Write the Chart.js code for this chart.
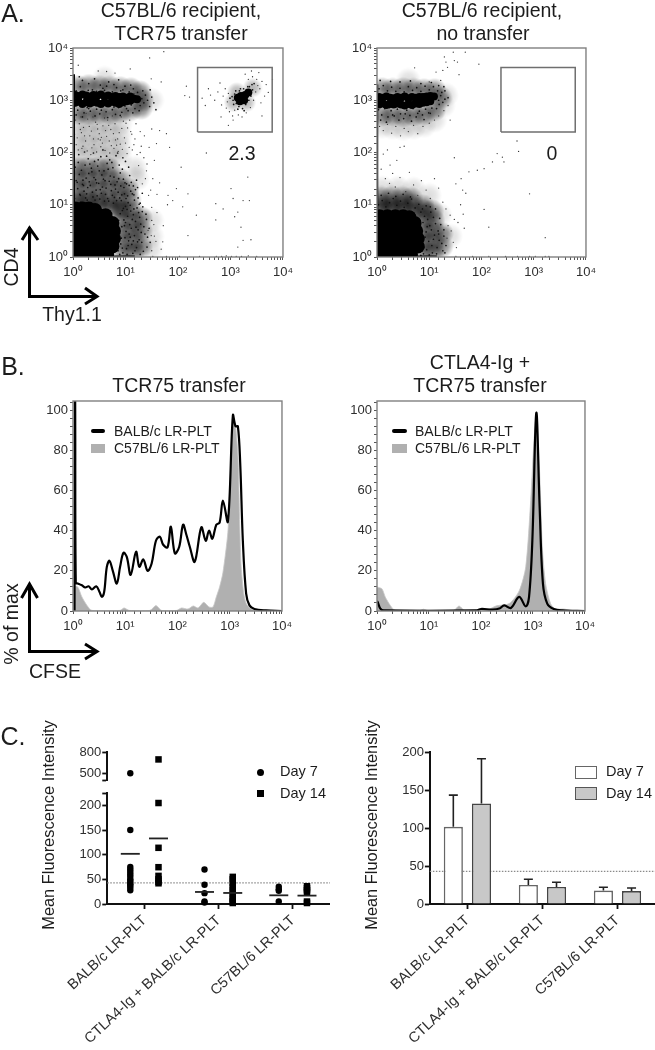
<!DOCTYPE html>
<html>
<head>
<meta charset="utf-8">
<title>TCR75 transfer</title>
<script src="https://cdn.jsdelivr.net/npm/chart.js@4"></script>
<style>
  html, body { margin: 0; padding: 0; background: #fff; }
  #page { position: relative; width: 655px; height: 1050px; overflow: hidden; font-family: "Liberation Sans", Arial, sans-serif; color: #1c1c1c; filter: blur(0.35px); }
  canvas { position: absolute; }
  svg { position: absolute; left: 0; top: 0; }
  .t { position: absolute; white-space: nowrap; transform: translate(-50%, -50%); font-size: 19.5px; }
  .v { transform: translate(-50%, -50%) rotate(-90deg); }
  .letter { font-size: 25px; }
  .key { font-size: 14px; transform: translate(0, -50%); }
  .day { font-size: 14.5px; transform: translate(0, -50%); }
  .mfi { font-size: 16.4px; }
  .swatch { position: absolute; }
</style>
</head>
<body>
<div id="page">
  <div class="t letter" style="left:13px;top:13px">A.</div>
  <div class="t letter" style="left:13px;top:366px">B.</div>
  <div class="t letter" style="left:13px;top:736px">C.</div>

  <div class="t" style="left:181px;top:10px">C57BL/6 recipient,</div>
  <div class="t" style="left:181px;top:33px">TCR75 transfer</div>
  <div class="t" style="left:482px;top:10px">C57BL/6 recipient,</div>
  <div class="t" style="left:483px;top:33px">no transfer</div>
  <div class="t" style="left:179px;top:385px">TCR75 transfer</div>
  <div class="t" style="left:480px;top:362px">CTLA4-Ig +</div>
  <div class="t" style="left:480px;top:385px">TCR75 transfer</div>

  <div class="t" style="left:242px;top:153px">2.3</div>
  <div class="t" style="left:552px;top:153px">0</div>

  <div class="t v" style="left:11px;top:267px">CD4</div>
  <div class="t" style="left:72px;top:314px">Thy1.1</div>
  <div class="t v" style="left:11px;top:624px">% of max</div>
  <div class="t" style="left:55px;top:671px">CFSE</div>
  <div class="t v mfi" style="left:48px;top:825px">Mean Fluorescence Intensity</div>
  <div class="t v mfi" style="left:371px;top:825px">Mean Fluorescence Intensity</div>

  <svg width="655" height="1050" fill="none" stroke="#000" stroke-width="3">
    <path d="M29.5 241 L30 228 M22 240 L29.5 228 L38 240 M29.5 227 V296.5 H97 M85 288 L97 296.5 L85 304"/>
    <path d="M29.5 598 V584 M21.5 598 L29.5 584 L37.5 598 M29.5 584 V651.5 H97 M85 644 L97 651.5 L85 659"/>
  </svg>

  <div class="swatch" style="left:91px;top:429px;width:14px;height:3.5px;background:#000;border-radius:2px"></div>
  <div class="swatch" style="left:91px;top:444px;width:14px;height:9px;background:#b0b0b0"></div>
  <div class="t key" style="left:114px;top:431px">BALB/c LR-PLT</div>
  <div class="t key" style="left:114px;top:448px">C57BL/6 LR-PLT</div>
  <div class="swatch" style="left:392px;top:429px;width:15px;height:3.5px;background:#000;border-radius:2px"></div>
  <div class="swatch" style="left:392px;top:444px;width:15px;height:9px;background:#b0b0b0"></div>
  <div class="t key" style="left:415px;top:431px">BALB/c LR-PLT</div>
  <div class="t key" style="left:415px;top:448px">C57BL/6 LR-PLT</div>

  <div class="swatch" style="left:257px;top:769px;width:7px;height:7px;border-radius:50%;background:#000"></div>
  <div class="swatch" style="left:257px;top:790px;width:7px;height:7px;background:#000"></div>
  <div class="t day" style="left:280px;top:771px">Day 7</div>
  <div class="t day" style="left:280px;top:793px">Day 14</div>
  <div class="swatch" style="left:575px;top:766px;width:20px;height:11px;background:#fff;border:1.5px solid #666"></div>
  <div class="swatch" style="left:575px;top:787px;width:20px;height:11px;background:#c8c8c8;border:1.5px solid #555"></div>
  <div class="t day" style="left:606px;top:771px">Day 7</div>
  <div class="t day" style="left:606px;top:793px">Day 14</div>

  <canvas id="flowLeft"></canvas>
  <canvas id="flowRight"></canvas>
  <canvas id="histLeft"></canvas>
  <canvas id="histRight"></canvas>
  <canvas id="dotsMfi"></canvas>
  <canvas id="barsMfi"></canvas>
</div>

<script>
const FONT = "'Liberation Sans', Arial, sans-serif";
const INK = "#2e2e2e";

const decadeLabels = ["10⁰", "10¹", "10²", "10³", "10⁴"];
const percentLabels = [0, 20, 40, 60, 80, 100];
const mfiLabels = [0, 50, 100, 150, 200, 500, 800];
const groupLabels = ["BALB/c LR-PLT", "CTLA4-Ig + BALB/c LR-PLT", "C57BL/6 LR-PLT"];
const cutoff = 43;

// Gate corners, in fluorescence units.
const gateX = [236, 6230, 6230, 236, 236];
const gateY = [247, 247, 4217, 4217, 247];

// Flow plots: flat lists of log10(x)*100, log10(y)*100 pairs.
// Solid populations are kept as blobs, grey ones as shade, the rest as single events.
const leftCore = [5,5, 20,5, 35,5, 50,5, 65,5, 5,20, 20,20, 35,20, 50,20, 65,20, 75,20, 5,35, 20,35, 35,35, 50,35, 65,35, 78,35,
  5,50, 20,50, 35,50, 50,50, 65,50, 78,50, 5,65, 20,65, 35,65, 50,65, 65,65, 75,65, 5,80, 20,80, 35,80, 50,80, 62,80, 5,93, 18,93, 30,93, 42,90];
const leftBand = [4,295, 11,297, 18,293, 25,296, 32,294, 39,297, 46,295, 53,293, 60,296, 67,294, 74,297, 81,295, 88,293, 95,296, 102,298, 109,299,
  4,310, 11,308, 18,311, 25,309, 32,307, 39,310, 46,308, 53,311, 60,307, 67,309, 74,306, 81,308, 88,306, 95,307, 102,305, 109,307, 116,303, 122,302];
const leftShade = [8,100, 30,102, 52,100, 72,96, 88,92, 8,110, 28,110, 48,110, 68,110, 88,110, 108,110, 8,130, 28,130, 48,130, 68,130, 88,130, 105,130, 8,150, 28,150, 48,150, 68,150, 88,150, 8,170, 28,170, 48,170, 68,170,
  95,10, 115,10, 95,30, 115,30, 95,50, 115,50, 95,70, 115,70, 95,90, 112,90, 130,20, 130,50, 130,75,
  10,326, 30,328, 50,326, 70,325, 90,324, 110,322, 10,275, 30,274, 50,276, 70,275, 90,278, 110,282, 132,300, 130,285, 128,316];
const leftHaze = [10,195, 30,195, 50,195, 70,192, 90,190, 10,215, 30,215, 50,215, 70,212, 90,210, 10,235, 30,235, 50,235, 70,235, 90,232, 10,255, 30,255, 50,255, 70,255, 90,255, 118,170, 122,150, 150,70, 150,40, 148,15, 150,300, 60,342];
const leftDense = [3,112, 9,131, 14,118, 21,126, 27,109, 33,137, 38,115, 44,128, 51,111, 56,134, 62,120, 68,107, 73,127, 79,114, 86,124, 92,108, 97,133, 104,117, 110,126, 117,109,
  6,146, 12,158, 18,139, 25,151, 31,144, 36,163, 43,148, 49,141, 55,157, 61,146, 67,168, 72,139, 78,153, 84,144, 90,161, 96,149, 102,140, 108,156, 115,136, 121,147,
  4,172, 10,181, 16,166, 23,176, 29,188, 35,170, 41,183, 47,174, 53,192, 59,165, 65,179, 70,186, 76,171, 82,194, 88,176, 94,168, 100,183, 106,172,
  2,125, 8,143, 15,105, 20,137, 26,121, 30,160, 34,104, 40,152, 46,117, 50,165, 54,122, 58,149, 63,132, 66,112, 71,155, 75,118, 80,138, 83,108, 87,150, 93,119, 99,142, 101,112, 107,137, 113,121, 119,129, 124,113, 128,103, 132,122,
  11,196, 22,201, 32,178, 39,199, 48,186, 57,205, 64,193, 74,181, 85,199, 95,190,
  13,120, 19,147, 24,113, 28,133, 37,124, 42,109, 45,142, 52,129, 60,107, 69,145, 77,103, 81,130, 89,113, 91,136, 98,121, 105,104, 111,143, 116,119, 123,133,
  86,12, 91,25, 95,8, 99,37, 88,46, 93,58, 97,71, 90,83, 96,93, 102,16, 106,31, 101,49, 108,62, 104,78, 110,88, 114,7, 112,24, 117,41, 111,55, 119,68, 115,81, 122,94, 121,18, 126,33, 124,52, 129,63, 127,76, 132,87, 134,11, 131,28, 137,44, 135,58, 140,72, 128,5, 87,70, 92,36, 98,60, 103,5, 107,44, 113,72, 118,12, 123,29, 130,47, 116,92, 100,97, 109,99, 126,101, 133,96, 139,82, 142,38, 145,55, 141,19, 147,28, 89,5, 94,17, 105,22, 100,66, 109,38, 115,31, 120,57, 125,85, 94,89, 103,91,
  6,318, 14,326, 22,315, 30,332, 37,320, 45,317, 52,329, 60,319, 68,335, 75,316, 83,324, 91,318, 99,327, 107,316, 115,322, 123,315, 18,338, 41,341, 64,327, 87,339, 12,345, 29,319, 57,323, 78,330, 95,320, 110,329,
  116,312, 120,297, 124,306, 128,290, 131,303, 135,295, 138,310, 126,280, 142,300, 146,288, 118,284, 133,318, 150,306, 154,295, 147,320, 158,282,
  3,289, 9,281, 15,292, 21,276, 27,286, 33,279, 39,290, 45,283, 51,274, 57,288, 63,278, 69,291, 75,282, 81,273, 87,286, 93,277, 99,289, 105,280, 111,291, 6,272, 18,268, 30,284, 42,270, 54,281, 66,267, 78,287, 90,271, 102,284, 114,276];
const leftSparse = [5,262, 12,255, 20,248, 28,264, 35,241, 43,258, 50,236, 57,251, 66,262, 72,244, 80,255, 88,238, 96,260, 104,247, 112,235, 8,228, 16,238, 24,222, 32,232, 40,215, 48,226, 56,218, 64,231, 73,213, 81,224, 90,216, 98,228, 107,210, 118,226, 10,205, 19,212, 27,203, 36,209, 45,201, 53,211, 61,204, 70,199, 78,208, 86,202, 94,206, 103,198, 113,205, 122,196, 130,212, 135,190, 125,175, 140,165, 145,210, 128,240, 136,232, 150,245, 141,178, 152,150, 148,128, 155,185, 160,120, 165,142, 3,235, 6,215, 2,270, 15,268, 25,275, 38,268, 47,245, 60,266, 75,270, 92,268, 108,262, 120,255,
  14,244, 22,232, 31,250, 39,226, 46,254, 54,229, 62,242, 69,222, 77,236, 85,226, 93,246, 100,218, 110,240, 17,208, 34,196, 52,224, 68,252, 83,214, 101,256, 116,215, 128,200, 138,150, 132,140, 144,118, 150,95, 154,62, 158,30, 150,12,
  146,381, 173,393, 10,367, 48,356, 64,355, 80,352, 109,360, 149,341, 168,335, 216,327, 213,309, 222,306, 165,242, 178,236, 184,210, 159,217, 206,172, 197,131, 181,118, 190,108, 219,121, 235,80, 254,199, 209,96, 272,102, 286,92, 301,131, 305,112, 333,153, 324,108, 336,108, 314,86, 308,77, 272,71, 320,57, 339,33, 324,32, 314,19, 219,41, 171,29, 149,41, 143,51,
  273,1, 283,1, 292,2, 302,1, 311,1, 321,1, 334,2, 350,1, 152,1, 178,1, 203,1, 241,1, 150,70, 155,40, 160,85, 168,15, 172,60, 180,100];
const gateBlob = [318,298, 326,300, 320,308, 328,310, 334,315, 314,305];
const gateShade = [306,296, 330,296, 312,316, 342,324];
const gateDense = [305,300, 308,312, 311,294, 313,306, 316,288, 317,318, 320,298, 321,310, 323,284, 325,322, 327,304, 329,292, 331,314, 333,326, 335,300, 337,318, 339,308, 341,330, 303,307, 306,292, 310,318, 314,283, 319,322, 326,280, 336,326, 342,320, 345,332, 299,304, 315,298, 318,305, 322,295, 324,302, 326,312];
const gateSparse = [262,310, 270,300, 276,316, 283,291, 286,308, 290,322, 294,297, 280,333, 292,285, 296,313, 298,278, 304,270, 308,281, 315,272, 322,268, 330,276, 338,286, 344,300, 348,316, 352,328, 350,340, 356,322, 342,345, 334,340, 328,350, 360,336, 365,308, 358,295, 246,304, 252,290, 258,322, 372,315, 305,262, 296,252, 282,268, 360,270, 368,330, 340,356, 354,353, 380,340];

const rightCore = [5,5, 20,5, 35,5, 50,5, 65,5, 5,20, 20,20, 35,20, 50,20, 65,20, 78,20, 5,35, 20,35, 35,35, 50,35, 65,35, 78,35,
  5,50, 20,50, 35,50, 50,50, 65,50, 75,50, 5,65, 20,65, 35,65, 50,65, 65,65, 72,65, 5,78, 20,78, 35,78, 50,78, 62,76];
const rightBand = [4,292, 11,294, 18,291, 25,293, 32,292, 39,294, 46,292, 53,290, 60,293, 67,291, 74,294, 81,293, 88,295, 95,296, 102,298,
  4,306, 11,305, 18,307, 25,305, 32,304, 39,306, 46,305, 53,307, 60,304, 67,306, 74,305, 81,306, 88,306, 95,307, 102,308, 109,307];
const rightShade = [8,92, 30,92, 52,90, 72,84, 8,100, 28,100, 48,100, 68,100, 88,98, 8,114, 28,114, 48,114, 66,112, 90,10, 108,10, 90,30, 108,30, 90,50, 108,50, 90,70, 108,70, 90,88, 106,88, 124,20, 124,45,
  10,322, 30,321, 50,322, 70,321, 90,320, 110,320, 10,272, 30,272, 50,270, 70,272, 90,274, 110,282, 122,305];
const rightHaze = [10,250, 30,248, 50,246, 70,248, 90,252, 110,262, 126,290, 132,310, 140,40, 10,132, 40,132, 70,130, 100,118, 120,80, 60,338];
const rightDense = [3,100, 10,108, 17,96, 24,104, 31,112, 38,99, 45,107, 52,95, 59,103, 66,111, 73,94, 80,101, 87,92, 94,98, 8,118, 22,122, 36,116, 50,120, 64,115,
  82,10, 86,24, 89,6, 92,38, 85,52, 88,66, 91,78, 84,86, 95,14, 99,30, 94,48, 101,60, 97,72, 103,86, 106,8, 105,22, 110,42, 104,52, 112,64, 108,76, 115,18, 119,32, 117,50, 122,62, 120,74, 126,12, 124,26, 128,40, 112,92, 128,52, 84,3, 90,18, 96,58, 100,4, 108,34, 114,6, 118,44, 102,96, 132,22, 130,8,
  4,322, 12,328, 20,318, 28,325, 36,317, 44,323, 52,316, 60,326, 68,319, 76,324, 84,317, 92,327, 100,320, 108,326, 116,318, 124,315, 112,308, 118,300, 122,309, 126,296, 119,292, 114,284,
  3,282, 9,272, 15,284, 21,268, 27,280, 33,270, 39,283, 45,274, 51,265, 57,281, 63,271, 69,284, 75,268, 81,279, 87,272, 93,283, 99,276, 105,285, 7,262, 18,258, 30,272, 42,262, 54,274, 66,260, 78,275, 90,263, 102,275, 24,286, 48,287, 72,288,
  6,338, 26,336, 44,335, 64,337, 84,332, 104,334, 118,328, 130,318, 128,326, 136,305, 130,302];
const rightSparse = [5,250, 12,242, 20,254, 28,237, 36,250, 45,232, 52,246, 60,240, 70,252, 78,236, 88,250, 100,256, 110,262, 118,270, 128,280, 136,290, 140,262,
  12,197, 25,176, 38,185, 44,210, 52,212, 20,205, 30,160, 8,168, 16,150, 24,141, 35,134, 44,152, 55,125, 62,162, 70,138, 78,118, 85,146, 94,128, 102,112, 110,150, 118,132, 126,105, 132,92, 140,80, 136,60, 142,50, 148,72, 155,66, 134,36, 146,28, 152,18, 160,100, 165,82,
  146,392, 169,392, 195,369, 129,383, 132,373, 148,376, 154,373, 135,363, 126,357, 157,349, 72,362, 113,354, 100,335, 122,338, 148,190, 151,140, 161,150, 176,163, 192,166, 205,169, 221,182, 230,198, 240,191, 243,182, 268,222, 271,202, 164,128, 170,122, 205,91, 214,57, 167,55, 292,121, 322,37,
  303,1, 322,1, 329,1, 183,1, 214,1, 246,1, 269,1, 292,1, 151,1];

// Histogram traces: CFSE value and % of max at each turning point.
const histLeftLineX = [1.07, 1.085, 1.1, 1.13, 1.23, 1.48, 1.72, 1.99, 2.3, 2.78, 3.22, 3.57, 3.95, 4.44, 4.99, 5.78, 6.89, 7.97, 9.23, 10.7, 12.7, 16.1, 18.6, 22.2, 26.8, 32, 38.7, 46, 53.3, 64.5, 74.6, 89, 108, 128, 148, 172, 214, 286, 347, 401, 464, 553, 640, 741, 923, 1149, 1292, 1432, 1585, 1782, 2061, 2388, 2972, 4955, 10000];
const histLeftLineY = [0, 105, 105, 14, 13.7, 12.8, 11.7, 12.3, 10.7, 12.3, 9.5, 7, 9.5, 22, 25, 20, 13.7, 22, 29, 27, 18, 29.5, 22, 25.7, 20, 23.7, 35, 37, 33, 31.7, 42, 28.7, 32, 43, 38, 32, 24.5, 41.7, 35, 40, 36, 43, 44, 55, 44.5, 97.5, 92, 92, 74, 35, 8.7, 2.8, 1, 0.3, 0];
const histLeftFillX = [1.0, 1.23, 1.48, 1.85, 2.3, 7.97, 9.5, 12, 29.7, 38.7, 49.5, 96, 119, 159, 200, 248, 317, 401, 478, 553, 640, 740, 920, 1000, 1070, 1150, 1292, 1452, 1556, 1656, 1850, 2050, 2400, 3000, 3980, 5500, 10000];
const histLeftFillY = [12.8, 12, 7, 2.8, 0.3, 0.3, 1.5, 0.3, 0.3, 2.7, 0.3, 0.3, 1.5, 1, 2.5, 1.5, 4.3, 2, 2, 7, 12, 19, 39, 60, 80, 95, 92, 75, 42, 22, 9, 4, 1.5, 0.5, 0.8, 0.2, 0];
const histRightLineX = [1.0, 1.03, 1.16, 1.34, 80.8, 100, 168, 225, 280, 376, 542, 726, 840, 972, 1159, 1342, 1553, 1880, 2519, 3631, 10000];
const histRightLineY = [5, 4.5, 1.2, 0.3, 0.3, 1, 0.7, 1.2, 2.8, 1.5, 7, 2.3, 7, 35, 98.7, 52, 13.7, 3.7, 1, 0.3, 0];
const histRightFillX = [1.0, 1.25, 1.44, 1.8, 2.24, 6.7, 7.76, 9.67, 29.9, 37.8, 48.4, 125, 194, 349, 542, 726, 904, 1047, 1159, 1342, 1510, 1746, 2176, 2712, 3908, 5630, 10000];
const histRightFillY = [12, 11, 7, 2.8, 0.3, 0.3, 0.9, 0.3, 0.3, 2.5, 0.3, 0.3, 2.5, 3.7, 10, 22, 55, 85, 97, 69, 32, 13.7, 3.7, 1, 1, 0.2, 0];

// Panel C values.
const day7Points = [[75, 70, 65, 60, 55, 50, 47, 43, 40, 37, 33, 28, 150], [70, 39, 22, 5, 3], [35, 30, 27, 5]];
const day14Points = [[204.7, 113.9, 74.6, 57, 50, 45, 42], [55, 50, 42, 35, 28, 22, 15, 10, 5, 2], [36, 32, 28, 24, 5, 2]];
const day7Broken = [500];
const day14Broken = [695];
const day7Means = [101.7, 24.4, 17.6];
const day14Means = [132.9, 22.4, 17];
const day7Bars = [101.5, 25, 17.6];
const day14Bars = [132.3, 22.4, 17];
const day7ErrorTops = [143.3, 32.5, 22];
const day14ErrorTops = [191.2, 28.6, 21];

const GROUP_SHIFT = 0.19;

// Turn a flat list of log10*100 pairs into chart points.
const logPairs = (flat) => {
  const points = [];
  for (let i = 0; i < flat.length; i += 2) {
    points.push({ x: 10 ** (flat[i] / 100), y: 10 ** (flat[i + 1] / 100) });
  }
  return points;
};

const zip = (xs, ys) => xs.map((x, i) => ({ x, y: ys[i] }));

// Size a canvas and put it on the page.
const place = (id, left, top, width, height) => {
  const canvas = document.getElementById(id);
  canvas.width = width;
  canvas.height = height;
  canvas.style.left = `${left}px`;
  canvas.style.top = `${top}px`;
  canvas.style.width = `${width}px`;
  canvas.style.height = `${height}px`;
  return canvas;
};

// Soft round point style for the grey, unresolved parts of the clouds.
const softPoint = (radius, alpha) => {
  const sprite = document.createElement("canvas");
  sprite.width = sprite.height = radius * 2;
  const ctx = sprite.getContext("2d");
  const shade = ctx.createRadialGradient(radius, radius, 0, radius, radius, radius);
  shade.addColorStop(0, `rgba(0,0,0,${alpha})`);
  shade.addColorStop(0.5, `rgba(0,0,0,${alpha * 0.7})`);
  shade.addColorStop(1, "rgba(0,0,0,0)");
  ctx.fillStyle = shade;
  ctx.fillRect(0, 0, radius * 2, radius * 2);
  return sprite;
};

// Grey frame round the plot area of panels A and B.
const framePlugin = {
  id: "frame",
  afterDatasetsDraw(chart) {
    const { ctx, chartArea: a } = chart;
    ctx.save();
    ctx.strokeStyle = "#808080";
    ctx.lineWidth = 1.4;
    ctx.strokeRect(a.left, a.top, a.right - a.left, a.bottom - a.top);
    ctx.restore();
  },
};

// Dotted cut-off across the bar panel, behind the bars.
const cutoffPlugin = {
  id: "cutoff",
  beforeDatasetsDraw(chart) {
    const { ctx, chartArea: a, scales } = chart;
    const y = scales.y.getPixelForValue(cutoff);
    ctx.save();
    ctx.strokeStyle = "#8a8a8a";
    ctx.lineWidth = 1.2;
    ctx.setLineDash([1.5, 1.5]);
    ctx.beginPath();
    ctx.moveTo(a.left, y);
    ctx.lineTo(a.right, y);
    ctx.stroke();
    ctx.restore();
  },
};

// Error bars on the bars of panel C, from the chart's own y scale.
const errorBarPlugin = {
  id: "errorBars",
  afterDatasetsDraw(chart) {
    const { ctx, scales } = chart;
    [day7ErrorTops, day14ErrorTops].forEach((tops, datasetIndex) => {
      const meta = chart.getDatasetMeta(datasetIndex);
      tops.forEach((top, i) => {
        const bar = meta.data[i];
        const y = scales.y.getPixelForValue(top);
        ctx.save();
        ctx.strokeStyle = "#222";
        ctx.lineWidth = 1.6;
        ctx.beginPath();
        ctx.moveTo(bar.x, bar.y);
        ctx.lineTo(bar.x, y);
        ctx.moveTo(bar.x - 4.5, y);
        ctx.lineTo(bar.x + 4.5, y);
        ctx.stroke();
        ctx.restore();
      });
    });
  },
};

const baseOptions = (top, right) => ({
  responsive: false,
  animation: false,
  devicePixelRatio: 1,
  events: [],
  layout: { autoPadding: false, padding: { top, right, left: 0, bottom: 0 } },
  plugins: { legend: { display: false }, tooltip: { enabled: false } },
});

const tickFont = { family: FONT, size: 13 };

const logAxis = (axis, size) => ({
  type: "logarithmic",
  min: 1,
  max: 10000,
  border: { display: false },
  grid: { drawOnChartArea: false, tickLength: 3, tickColor: "#555", tickWidth: 1 },
  ticks: {
    autoSkip: false,
    maxRotation: 0,
    padding: axis === "x" ? 5 : 2,
    color: INK,
    font: tickFont,
    callback: (value) => {
      const power = Math.log10(value);
      return Number.isInteger(Math.round(power * 1000) / 1000) ? decadeLabels[Math.round(power)] : "";
    },
  },
  afterFit: (scale) => {
    if (axis === "x") scale.height = size;
    else scale.width = size;
  },
});

const dotLayer = (data, radius, color) => ({
  data,
  pointRadius: radius,
  pointBorderWidth: 0,
  pointBackgroundColor: color,
  clip: 0,
});

const softLayer = (data, sprite) => ({
  data,
  pointStyle: sprite,
  pointRadius: sprite.width / 2,
  clip: 0,
});

const lineLayer = (data, width, color) => ({
  data,
  showLine: true,
  tension: 0,
  pointRadius: 0,
  borderWidth: width,
  borderColor: color,
  clip: 0,
});

// Panel A dot plot.
const drawFlow = (id, left, width, layers) => {
  const canvas = place(id, left - 40, 36, width + 40 + 14, 209 + 12 + 24);
  return new Chart(canvas, {
    type: "scatter",
    data: {
      datasets: [lineLayer(zip(gateX, gateY), 1.5, "#6f6f6f"), ...layers],
    },
    options: {
      ...baseOptions(12, 14),
      scales: { x: logAxis("x", 24), y: logAxis("y", 40) },
    },
    plugins: [framePlugin],
  });
};

const SHADE = softPoint(12, 0.5);
const HAZE = softPoint(13, 0.14);
const GATE_SHADE = softPoint(10, 0.3);

drawFlow("flowLeft", 73, 211, [
  dotLayer(logPairs(gateBlob), 4, "#000"),
  dotLayer(logPairs(gateDense), 0.85, "#111"),
  dotLayer(logPairs(gateSparse), 0.65, "#333"),
  softLayer(logPairs(gateShade), GATE_SHADE),
  lineLayer(zip([1, 1], [1, 3162]), 4, "#000"),
  lineLayer(zip([1, 15], [1, 1]), 3, "#000"),
  dotLayer(logPairs(leftCore), 7, "#000"),
  dotLayer(logPairs(leftBand), 4, "#000"),
  dotLayer(logPairs(leftDense), 0.85, "#111"),
  dotLayer(logPairs(leftSparse), 0.65, "#333"),
  softLayer(logPairs(leftShade), SHADE),
  softLayer(logPairs(leftHaze), HAZE),
]);

drawFlow("flowRight", 377, 210, [
  lineLayer(zip([1, 1], [1, 1995]), 2.5, "#000"),
  lineLayer(zip([1, 14], [1, 1]), 3, "#000"),
  dotLayer(logPairs(rightCore), 7, "#000"),
  dotLayer(logPairs(rightBand), 4, "#000"),
  dotLayer(logPairs(rightDense), 0.85, "#111"),
  dotLayer(logPairs(rightSparse), 0.65, "#333"),
  softLayer(logPairs(rightShade), SHADE),
  softLayer(logPairs(rightHaze), HAZE),
]);

// Panel B histogram.
const drawHist = (id, left, width, lineData, fillData) => {
  const canvas = place(id, left - 40, 391, width + 40 + 14, 210 + 10 + 24);
  return new Chart(canvas, {
    type: "line",
    data: {
      datasets: [
        { data: lineData, borderColor: "#000", borderWidth: 2.2, tension: 0.35, pointRadius: 0, fill: false },
        { data: fillData, borderColor: "#c6c6c6", borderWidth: 0.8, tension: 0.25, pointRadius: 0, fill: "origin", backgroundColor: "#b0b0b0" },
      ],
    },
    options: {
      ...baseOptions(10, 14),
      scales: {
        x: logAxis("x", 24),
        y: {
          min: 0,
          max: 104.6,
          border: { display: false },
          grid: { drawOnChartArea: false, tickLength: 3, tickColor: "#555" },
          ticks: {
            stepSize: 4,
            includeBounds: false,
            autoSkip: false,
            padding: 2,
            color: INK,
            font: tickFont,
            callback: (value) => (percentLabels.includes(value) ? value : ""),
          },
          afterFit: (scale) => { scale.width = 40; },
        },
      },
    },
    plugins: [framePlugin],
  });
};

drawHist("histLeft", 73, 210, zip(histLeftLineX, histLeftLineY), zip(histLeftFillX, histLeftFillY));
drawHist("histRight", 377, 209, zip(histRightLineX, histRightLineY), zip(histRightFillX, histRightFillY));

// Shared axes of panel C.
const mfiYAxis = (extra) => ({
  border: { color: "#111", width: 2 },
  grid: { drawOnChartArea: false, tickLength: 5, tickColor: "#111", tickWidth: 1.8 },
  ticks: {
    autoSkip: false,
    padding: 1,
    color: INK,
    font: tickFont,
    callback: (value) => (mfiLabels.includes(value) ? value : ""),
  },
  afterFit: (scale) => { scale.width = 44; },
  ...extra,
});

const groupXTicks = {
  autoSkip: false,
  minRotation: 43,
  maxRotation: 43,
  padding: 3,
  color: INK,
  font: { family: FONT, size: 14.5 },
};

const fixedTicks = (values) => (scale) => {
  scale.ticks = values.map((value) => ({ value }));
};

const shiftPoints = (groups, shift) =>
  groups.flatMap((values, group) => values.map((y) => ({ x: group + shift, y })));
const shiftMeans = (means, shift) => means.map((y, group) => ({ x: group + shift, y }));

const pointLayer = (data, style, radius, yAxisID) => ({
  data,
  yAxisID,
  pointStyle: style,
  pointRadius: radius,
  pointBackgroundColor: "#000",
  pointBorderWidth: 0,
  clip: false,
});

const meanLayer = (data) => ({
  data,
  yAxisID: "yLow",
  pointStyle: "line",
  pointRadius: 9.5,
  pointBorderColor: "#222",
  pointBorderWidth: 1.8,
  clip: false,
});

new Chart(place("dotsMfi", 60, 742, 270, 308), {
  type: "scatter",
  data: {
    datasets: [
      meanLayer(shiftMeans(day7Means, -GROUP_SHIFT)),
      meanLayer(shiftMeans(day14Means, GROUP_SHIFT)),
      pointLayer(shiftPoints(day7Points, -GROUP_SHIFT), "circle", 3.2, "yLow"),
      pointLayer(shiftPoints(day14Points, GROUP_SHIFT), "rect", 4.6, "yLow"),
      pointLayer(shiftPoints([day7Broken], -GROUP_SHIFT), "circle", 3.2, "yHigh"),
      pointLayer(shiftPoints([day14Broken], GROUP_SHIFT), "rect", 4.6, "yHigh"),
      { data: zip([-0.5, 2.5], [cutoff, cutoff]), yAxisID: "yLow", showLine: true, pointRadius: 0, borderColor: "#8a8a8a", borderWidth: 1.2, borderDash: [1.5, 1.5], clip: false },
    ],
  },
  options: {
    ...baseOptions(10, 0),
    scales: {
      x: {
        type: "linear",
        min: -0.5,
        max: 2.5,
        border: { color: "#111", width: 2 },
        grid: { drawOnChartArea: false, tickLength: 5, tickColor: "#111", tickWidth: 1.8 },
        afterBuildTicks: fixedTicks([0, 1, 2]),
        ticks: { ...groupXTicks, callback: (value) => groupLabels[value] },
        afterFit: (scale) => { scale.height = 146; },
      },
      yHigh: mfiYAxis({ type: "linear", stack: "mfi", stackWeight: 28, weight: 3, min: 404, max: 800, afterBuildTicks: fixedTicks([404, 500, 800]) }),
      yGap: { type: "linear", stack: "mfi", stackWeight: 13, weight: 2, display: false },
      yLow: mfiYAxis({ type: "linear", stack: "mfi", stackWeight: 111, weight: 1, min: 0, max: 225, afterBuildTicks: fixedTicks([0, 50, 100, 150, 200, 225]) }),
    },
  },
});

new Chart(place("barsMfi", 383, 742, 272, 308), {
  type: "bar",
  data: {
    labels: groupLabels,
    datasets: [
      { data: day7Bars, backgroundColor: "#fff", borderColor: "#666", borderWidth: 1.6, borderSkipped: "bottom", barPercentage: 0.68, categoryPercentage: 0.75 },
      { data: day14Bars, backgroundColor: "#c8c8c8", borderColor: "#444", borderWidth: 1.6, borderSkipped: "bottom", barPercentage: 0.68, categoryPercentage: 0.75 },
    ],
  },
  options: {
    ...baseOptions(10, 0),
    scales: {
      x: {
        border: { color: "#111", width: 2 },
        grid: { offset: false, drawOnChartArea: false, tickLength: 5, tickColor: "#111", tickWidth: 1.8 },
        ticks: groupXTicks,
        afterFit: (scale) => { scale.height = 146; },
      },
      y: {
        ...mfiYAxis({}),
        min: 0,
        max: 200,
        ticks: { stepSize: 50, padding: 1, color: INK, font: tickFont },
      },
    },
  },
  plugins: [cutoffPlugin, errorBarPlugin],
});
</script>
</body>
</html>
